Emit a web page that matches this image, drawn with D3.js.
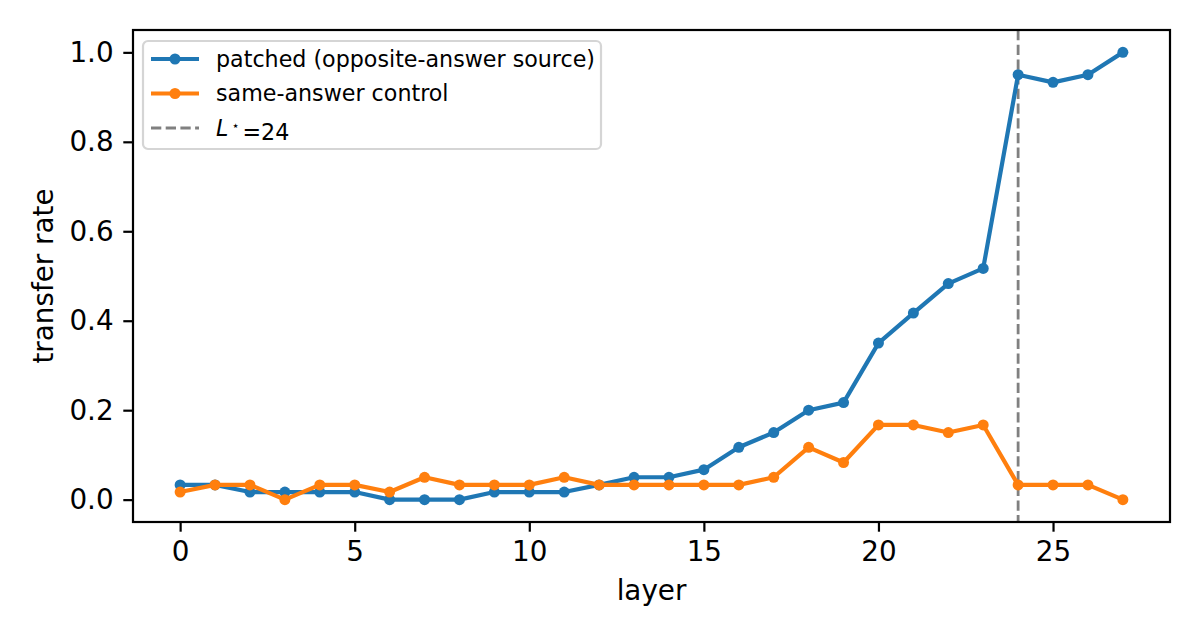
<!DOCTYPE html>
<html>
<head>
<meta charset="utf-8">
<script src="https://cdn.jsdelivr.net/npm/d3@7"></script>
<style>
  body { margin: 0; background: #fff; }
  svg { display: block; font-family: "DejaVu Sans", sans-serif; }
</style>
</head>
<body>
<div id="chart"></div>
<script>
// data (rates are multiples of 1/60)
var layers = d3.range(0, 28);
var patched = [0.033, 0.033, 0.017, 0.017, 0.017, 0.017, 0, 0, 0, 0.017,
               0.017, 0.017, 0.033, 0.05, 0.05, 0.067, 0.117, 0.15, 0.2, 0.217,
               0.35, 0.417, 0.483, 0.517, 0.95, 0.933, 0.95, 1.0];
var control = [0.017, 0.033, 0.033, 0, 0.033, 0.033, 0.017, 0.05, 0.033, 0.033,
               0.033, 0.05, 0.033, 0.033, 0.033, 0.033, 0.033, 0.05, 0.117, 0.083,
               0.167, 0.167, 0.15, 0.167, 0.033, 0.033, 0.033, 0];
var xTicks = [0, 5, 10, 15, 20, 25];
var yTicks = [0, 0.2, 0.4, 0.6, 0.8, 1.0];
var lStar = 24;
var seriesNames = ["patched (opposite-answer source)", "same-answer control"];
var colors = ["#1f77b4", "#ff7f0e"];

var width = 1200, height = 640;
var margin = {left: 133, right: 30, top: 30, bottom: 118};
var plotW = width - margin.left - margin.right;
var plotH = height - margin.top - margin.bottom;

var svg = d3.select("#chart").append("svg")
    .attr("width", width)
    .attr("height", height);

var x = d3.scaleLinear().domain([-1.35, 28.35]).range([0, plotW]);
var y = d3.scaleLinear().domain([-0.05, 1.05]).range([plotH, 0]);

var g = svg.append("g")
    .attr("transform", "translate(" + margin.left + "," + margin.top + ")");

// axes
var xAxis = g.append("g")
    .attr("transform", "translate(0," + plotH + ")")
    .call(d3.axisBottom(x).tickValues(xTicks).tickSize(9.7).tickPadding(9.7).tickFormat(d3.format("d")));
var yAxis = g.append("g")
    .call(d3.axisLeft(y).tickValues(yTicks).tickSize(9.7).tickPadding(9.7).tickFormat(d3.format(".1f")));

[xAxis, yAxis].forEach(function (a) {
  a.select(".domain").remove();
  a.selectAll(".tick line").attr("stroke", "#000").attr("stroke-width", 2.2);
  a.selectAll(".tick text").attr("fill", "#000")
      .style("font-size", "27.8px").style("font-family", "DejaVu Sans");
});

// vertical L* line
g.append("line")
    .attr("x1", x(lStar)).attr("x2", x(lStar))
    .attr("y1", 0).attr("y2", plotH)
    .attr("stroke", "#808080")
    .attr("stroke-width", 2.8)
    .attr("stroke-dasharray", "10.3,4.4");

// series
var line = d3.line()
    .x(function (d, i) { return x(layers[i]); })
    .y(function (d) { return y(d); });

[patched, control].forEach(function (vals, k) {
  g.append("path")
      .datum(vals)
      .attr("fill", "none")
      .attr("stroke", colors[k])
      .attr("stroke-width", 4.2)
      .attr("stroke-linejoin", "round")
      .attr("d", line);
  g.selectAll(".dot" + k)
      .data(vals)
      .enter()
      .append("circle")
      .attr("cx", function (d, i) { return x(layers[i]); })
      .attr("cy", function (d) { return y(d); })
      .attr("r", 5.5)
      .attr("fill", colors[k]);
});

// frame
g.append("rect")
    .attr("width", plotW).attr("height", plotH)
    .attr("fill", "none")
    .attr("stroke", "#000")
    .attr("stroke-width", 2.2);

// axis labels
svg.append("text")
    .attr("x", margin.left + plotW / 2)
    .attr("y", 600)
    .attr("text-anchor", "middle")
    .style("font-size", "27.8px")
    .text("layer");
svg.append("text")
    .attr("transform", "translate(53," + (margin.top + plotH / 2) + ") rotate(-90)")
    .attr("text-anchor", "middle")
    .style("font-size", "27.8px")
    .text("transfer rate");

// legend
var leg = g.append("g").attr("transform", "translate(10,11)");
leg.append("rect")
    .attr("width", 458).attr("height", 108)
    .attr("rx", 5)
    .attr("fill", "#fff").attr("fill-opacity", 0.8)
    .attr("stroke", "#d5d5d5").attr("stroke-width", 2.2);

[0, 1, 2].forEach(function (r) {
  var ry = 18 + r * 34.5;
  var item = leg.append("g").attr("transform", "translate(0," + ry + ")");
  var t = item.append("text")
      .attr("x", 73)
      .attr("dy", "0.35em")
      .style("font-size", "22.2px");
  if (r < 2) {
    item.append("line")
        .attr("x1", 8).attr("x2", 56)
        .attr("stroke", colors[r]).attr("stroke-width", 4.2);
    item.append("circle").attr("cx", 32).attr("r", 5.5).attr("fill", colors[r]);
    t.text(seriesNames[r]);
  } else {
    item.append("line")
        .attr("x1", 8).attr("x2", 56)
        .attr("stroke", "#808080").attr("stroke-width", 2.8)
        .attr("stroke-dasharray", "10.3,4.4");
    t.append("tspan").style("font-style", "italic").text("L");
    t.append("tspan").attr("dx", 3).attr("dy", "-0.45em").style("font-size", "13px").text("\u22C6");
    t.append("tspan").attr("dx", 3).attr("dy", "0.45em").text("=" + lStar);
  }
});
</script>
</body>
</html>
